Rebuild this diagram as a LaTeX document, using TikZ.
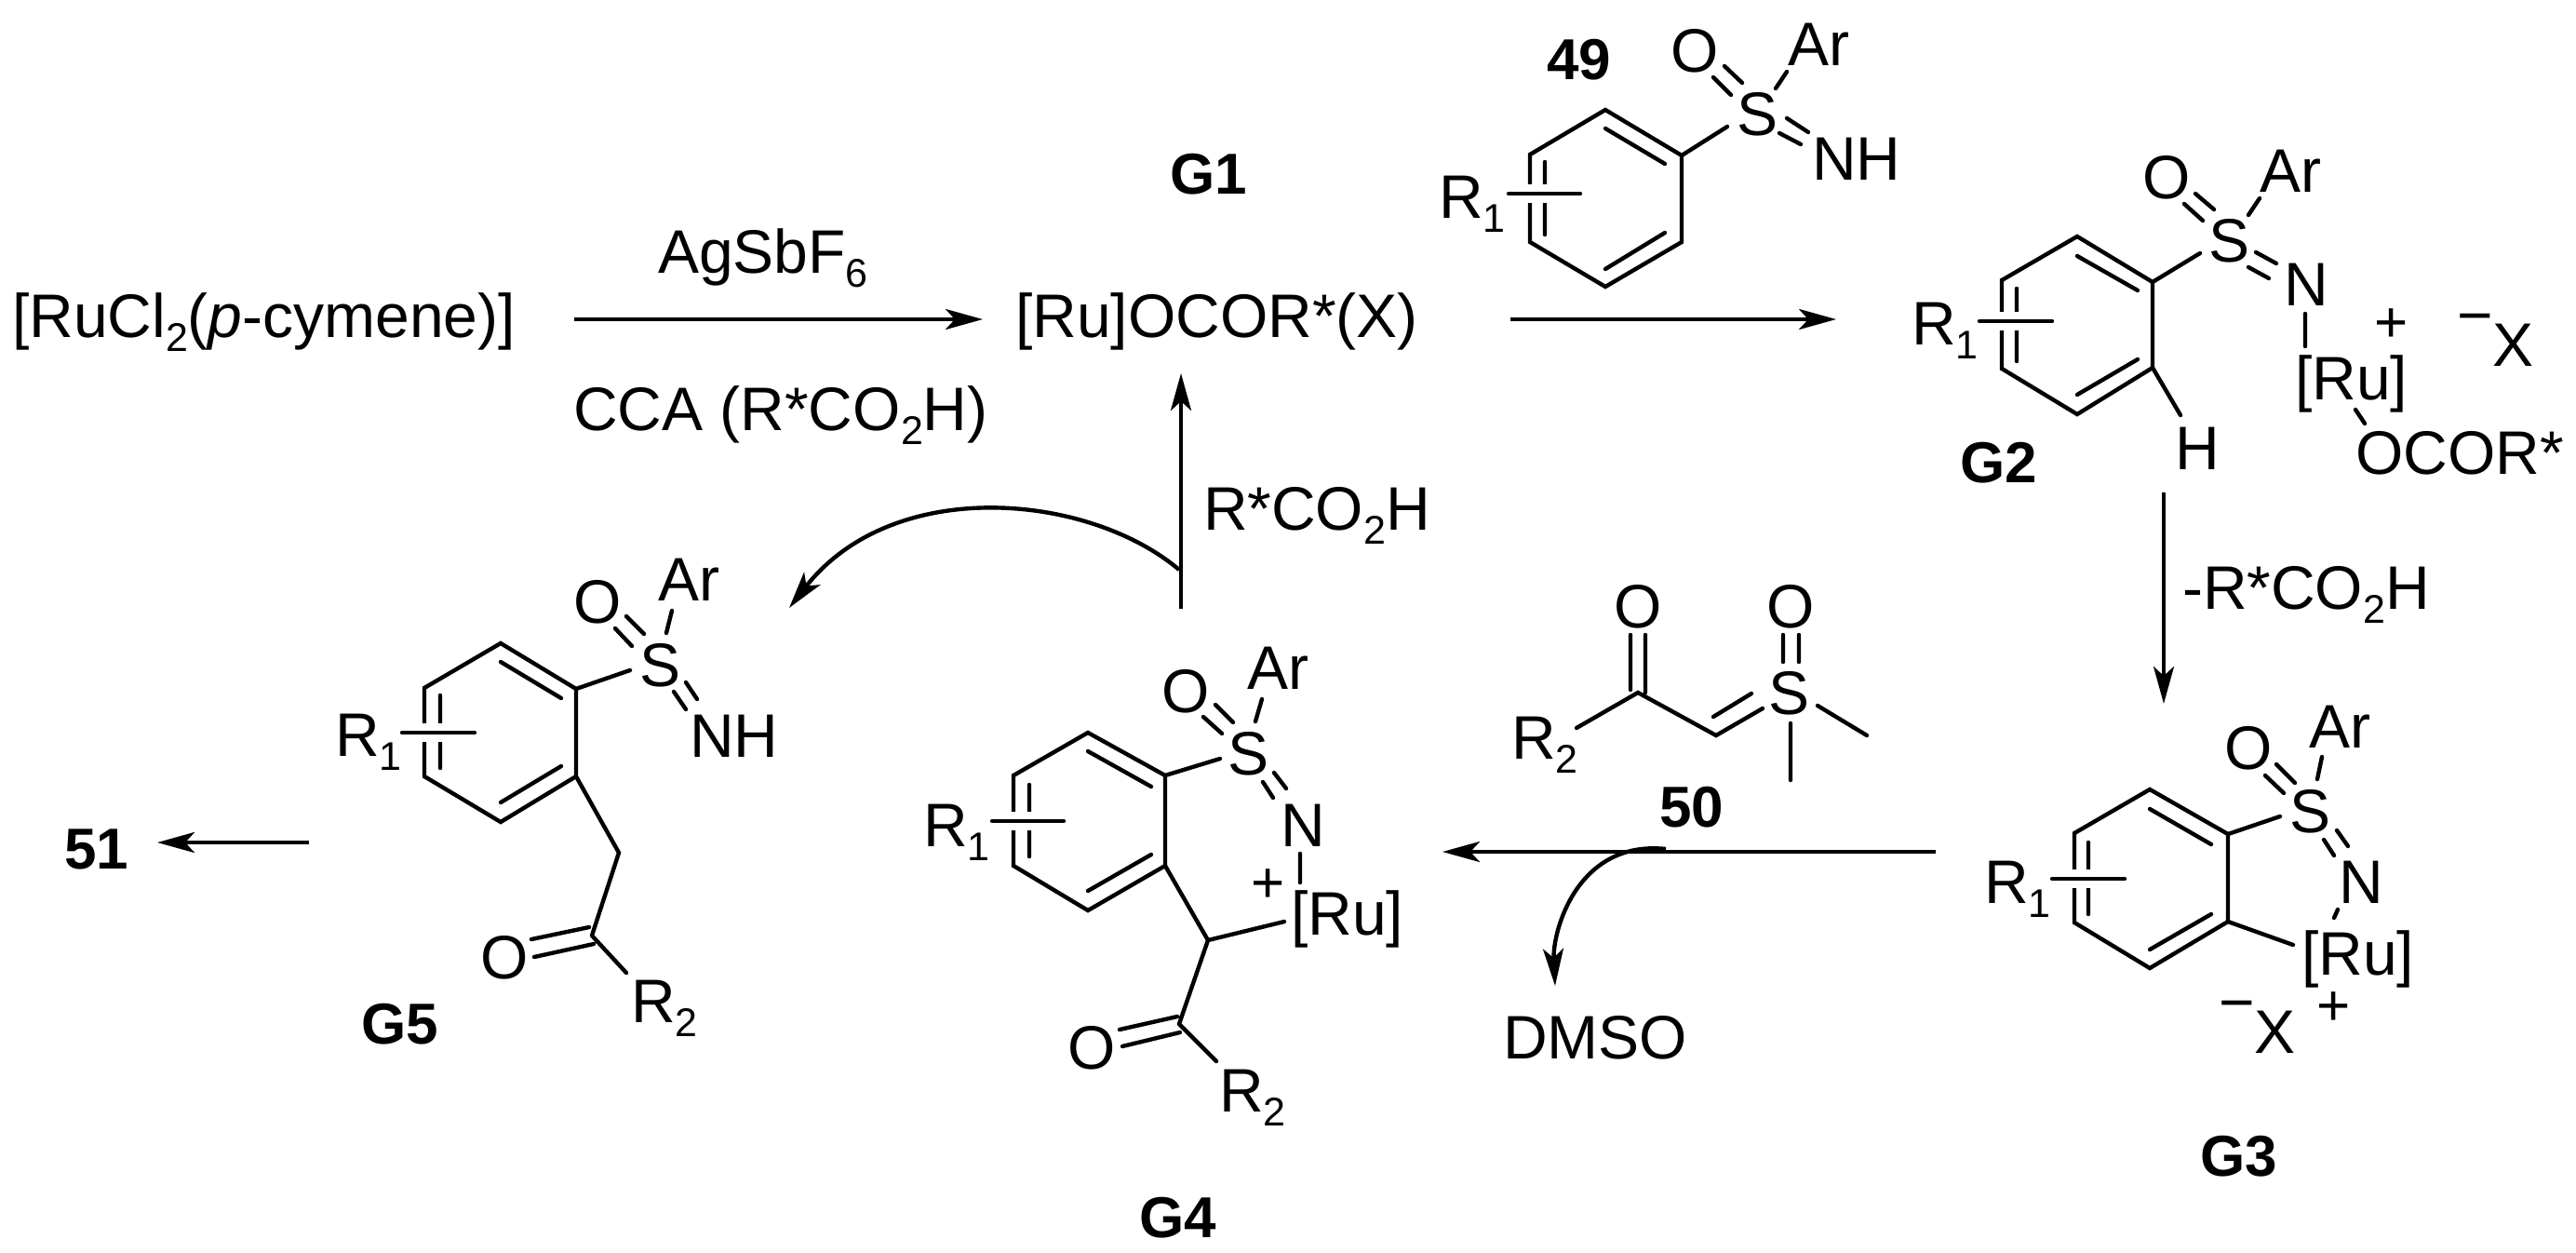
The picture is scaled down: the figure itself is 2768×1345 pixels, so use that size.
\documentclass[tikz,border=0pt]{standalone}
\usepackage{fontspec}
\setmainfont{Liberation Sans}
\usetikzlibrary{arrows.meta}
\newcommand{\mysub}[1]{\raisebox{-7.5pt}{\fontsize{21.5}{21.5}\selectfont #1}}
\newcommand{\rbar}[3]{\draw[white,line width=10pt,line cap=butt] (#1,#3) -- (#2,#3); \draw[bond] (#1,#3) -- (#2,#3);}
\tikzset{
  bond/.style={line width=2.2pt,line cap=round,line join=miter,draw=black},
  lab/.style={anchor=base west,inner sep=0pt,outer sep=0pt,xshift=-2pt,font=\fontsize{33}{33}\selectfont,text=black},
  chargemark/.style={anchor=center,inner sep=0pt,font=\fontsize{31}{31}\selectfont},
  cpd/.style={anchor=base west,inner sep=0pt,outer sep=0pt,font=\fontsize{31}{31}\selectfont\bfseries,text=black},
  rxn/.style={line width=2.2pt,draw=black,-{Stealth[length=20pt,width=11pt,inset=5pt]}}
}
\begin{document}
\begin{tikzpicture}[x=.5pt,y=-.5pt]
\useasboundingbox (0,0) rectangle (2768,1345);
\fill[white] (0,0) rectangle (2768,1345);

% top row text
\node[lab] (ruprec) at (17,362) {[RuCl\mysub{2}(\textit{p}-cymene)]};
\node[lab] (agsb) at (711,293) {AgSbF\mysub{6}};
\node[lab] (cca) at (620,462) {CCA (R*CO\mysub{2}H)};
\node[lab] (g1sp) at (1095,362) {[Ru]OCOR*(X)};
\node[cpd] (g1) at (1257,208) {G1};
\node[lab] (acid1) at (1297,569) {R*CO\mysub{2}H};
\node[lab] (acid2) at (2349,654) {-R*CO\mysub{2}H};

% arrow ends
\coordinate (a1s) at (617,343); \coordinate (a1e) at (1056,343);
\coordinate (a2s) at (1623,343); \coordinate (a2e) at (1973,343);
\coordinate (a3s) at (2325,529); \coordinate (a3e) at (2325,756);
\coordinate (a4s) at (2080,915); \coordinate (a4e) at (1550,915);
\coordinate (a5s) at (1269,654); \coordinate (a5e) at (1269,401);
\coordinate (a6s) at (332,905); \coordinate (a6e) at (169,905);
\coordinate (c1s) at (1267,612); \coordinate (c1e) at (848,653);
\coordinate (c2s) at (1790,912); \coordinate (c2e) at (1671,1059);
\draw[rxn] (a1s) -- (a1e);
\draw[rxn] (a2s) -- (a2e);
\draw[rxn] (a3s) -- (a3e);
\draw[rxn] (a4s) -- (a4e);
\draw[rxn] (a5s) -- (a5e);
\draw[rxn] (a6s) -- (a6e);
\draw[rxn] (c1s) .. controls (1170,530) and (960,510) .. (c1e);
\draw[rxn] (c2s) .. controls (1695,902) and (1668,1000) .. (c2e);

\node[lab] (dmso) at (1619,1137) {DMSO};
\node[cpd] (n51) at (69,933) {51};

% ---- 49
\draw[bond] (1725,118) -- (1807,167) -- (1807,260) -- (1725,308) -- (1644,260) -- (1644,166) -- cycle;
\draw[bond] (1725,138) -- (1789,176) (1789,250) -- (1725,289) (1660,174) -- (1660,252);
\rbar{1621}{1698}{208}
\draw[bond] (1807,167) -- (1856,136) (1841,83) -- (1860,102) (1853,71) -- (1872,89)
 (1920,77) -- (1908,95) (1920,127) -- (1943,142) (1912,143) -- (1935,155);
\node[cpd] (n49) at (1662,85) {49};
\node[lab] at (1550,234) {R\mysub{1}};
\node[lab] at (1799,77) {O};
\node[lab] at (1925,70) {Ar};
\node[lab] at (1870,145) {S};
\node[lab] at (1951,193) {NH};

% ---- G2
\draw[bond] (2232,254) -- (2313,303) -- (2313,395) -- (2232,445) -- (2151,396) -- (2151,301) -- cycle;
\draw[bond] (2232,275) -- (2297,312) (2297,386) -- (2232,424) (2167,310) -- (2167,388);
\rbar{2127}{2205}{345}
\draw[bond] (2313,303) -- (2364,272) (2347,219) -- (2367,237) (2359,208) -- (2379,225)
 (2428,213) -- (2416,231) (2424,271) -- (2446,283) (2416,287) -- (2438,299)
 (2477,337) -- (2477,372) (2531,440) -- (2541,455) (2313,395) -- (2343,446);
\node[lab] at (2058,370) {R\mysub{1}};
\node[lab] at (2306,213) {O};
\node[lab] at (2432,206) {Ar};
\node[lab] at (2377,281) {S};
\node[lab] at (2458,328) {N};
\node[lab] at (2470,429) {[Ru]};
\node[chargemark] at (2570,350) {+};
\node[lab] at (2644,393) {\raisebox{16pt}{−}X};
\node[lab] at (2535,509) {OCOR*};
\node[lab] at (2341,504) {H};
\node[cpd] (g2) at (2106,518) {G2};

% ---- 50
\draw[bond] (1752,682) -- (1752,741) (1768,682) -- (1768,744)
 (1694,782) -- (1760,744) -- (1844,790) -- (1894,761) (1841,770) -- (1882,745)
 (1916,682) -- (1916,711) (1933,682) -- (1933,711)
 (1953,758) -- (2006,790) (1924,777) -- (1924,838);
\node[lab] at (1738,674) {O};
\node[lab] at (1902,674) {O};
\node[lab] at (1904,767) {S};
\node[lab] at (1628,815) {R\mysub{2}};
\node[cpd] (n50) at (1783,888) {50};

% ---- G3
\draw[bond] (2310,848) -- (2394,896) -- (2394,990) -- (2310,1040) -- (2229,991) -- (2229,895) -- cycle;
\draw[bond] (2310,869) -- (2376,907) (2376,982) -- (2310,1020) (2244,905) -- (2244,982);
\rbar{2205}{2283}{944}
\draw[bond] (2394,896) -- (2450,877) (2434,833) -- (2454,852) (2446,821) -- (2466,841)
 (2495,813) -- (2490,837) (2497,902) -- (2508,919) (2511,892) -- (2523,909)
 (2512,977) -- (2508,986) (2394,990) -- (2464,1015);
\node[lab] at (2136,970) {R\mysub{1}};
\node[lab] at (2464,894) {S};
\node[lab] at (2394,826) {O};
\node[lab] at (2485,803) {Ar};
\node[lab] at (2517,970) {N};
\node[lab] at (2477,1047) {[Ru]};
\node[lab] at (2388,1131) {\raisebox{16pt}{−}X};
\node[chargemark] at (2508,1084) {+};
\node[cpd] (g3) at (2364,1263) {G3};

% ---- G4
\draw[bond] (1169,787) -- (1252,833) -- (1252,930) -- (1169,978) -- (1089,930) -- (1089,833) -- cycle;
\draw[bond] (1169,807) -- (1237,845) (1237,918) -- (1169,957) (1106,843) -- (1106,920);
\rbar{1066}{1143}{882}
\draw[bond] (1252,833) -- (1311,815) (1293,770) -- (1313,788) (1306,757) -- (1325,776)
 (1356,751) -- (1349,775) (1357,840) -- (1368,857) (1369,830) -- (1382,847)
 (1397,917) -- (1397,948) (1252,930) -- (1298,1010) -- (1380,990) (1298,1010) -- (1267,1100)
 (1203,1106) -- (1265,1092) (1206,1124) -- (1268,1109) (1267,1100) -- (1307,1140);
\node[lab] at (996,909) {R\mysub{1}};
\node[lab] at (1323,832) {S};
\node[lab] at (1252,765) {O};
\node[lab] at (1344,740) {Ar};
\node[lab] at (1380,909) {N};
\node[chargemark] at (1363,952) {+};
\node[lab] at (1391,1004) {[Ru]};
\node[lab] at (1151,1148) {O};
\node[lab] at (1314,1194) {R\mysub{2}};
\node[cpd] (g4) at (1224,1329) {G4};

% ---- G5
\draw[bond] (538,691) -- (619,740) -- (619,834) -- (538,883) -- (456,834) -- (456,739) -- cycle;
\draw[bond] (538,711) -- (603,750) (603,823) -- (538,862) (473,747) -- (473,825);
\rbar{432}{510}{787}
\draw[bond] (619,740) -- (677,720) (661,675) -- (679,694) (673,662) -- (692,681)
 (722,656) -- (716,680) (724,743) -- (737,762) (737,733) -- (749,751)
 (619,834) -- (665,916) -- (636,1005) (571,1009) -- (633,996) (574,1028) -- (638,1014)
 (636,1005) -- (673,1045);
\node[lab] at (364,812) {R\mysub{1}};
\node[lab] at (691,737) {S};
\node[lab] at (620,669) {O};
\node[lab] at (711,645) {Ar};
\node[lab] at (745,813) {NH};
\node[lab] at (520,1051) {O};
\node[lab] at (682,1098) {R\mysub{2}};
\node[cpd] (g5) at (388,1121) {G5};
\end{tikzpicture}
\end{document}
